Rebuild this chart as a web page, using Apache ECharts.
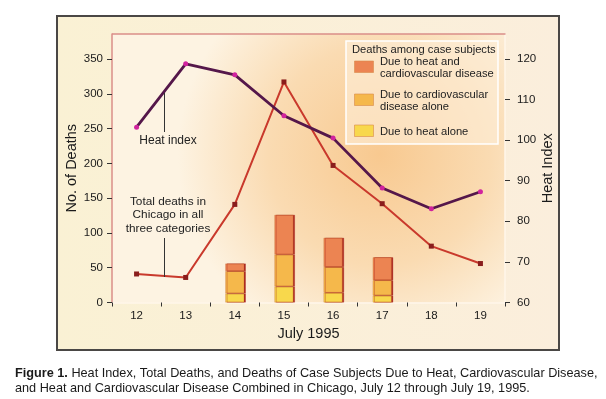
<!DOCTYPE html>
<html style="height: 100%">
<head>
    <meta charset="utf-8">
</head>
<body style="height: 100%; margin: 0; background: #fff">
<div id="container" style="width: 606px; height: 399px"></div>
<script type="text/javascript" src="https://cdn.jsdelivr.net/npm/echarts@6/dist/echarts.min.js"></script>
<script type="text/javascript">
    var days = ['12', '13', '14', '15', '16', '17', '18', '19'];
    var heatIndex = [103.2, 118.8, 116.1, 106.0, 100.5, 88.2, 83.1, 87.3];
    var totalDeaths = [41, 36, 141, 317, 197, 142, 81, 56];
    var heatAlone = [null, null, 13, 23, 14, 10, null, null];
    var cardioAlone = [null, null, 32, 46, 37, 22, null, null];
    var heatAndCardio = [null, null, 11, 57, 42, 33, null, null];
    var deathTicks = [0, 50, 100, 150, 200, 250, 300, 350];
    var heatTicks = [60, 70, 80, 90, 100, 110, 120];

    var FONT = 'Liberation Sans, Arial, sans-serif';
    var colHeatCardio = '#EC8452';
    var colCardio = '#F5B84B';
    var colHeat = '#F8D84C';

    // plot box runs a bit above the top tick on both axes
    var deathMax = 385.9;
    var heatMax = 60 + deathMax / 350 * 60;

    var dom = document.getElementById("container");
    var myChart = echarts.init(dom);

    var legendItems = [
        {color: colHeatCardio, lines: ['Due to heat and', 'cardiovascular disease']},
        {color: colCardio, lines: ['Due to cardiovascular', 'disease alone']},
        {color: colHeat, lines: ['Due to heat alone']}
    ];
    var legendEls = [
        {type: 'rect', shape: {x: 346, y: 41, width: 152, height: 103},
            style: {fill: 'rgba(253,238,216,0.6)', stroke: '#fff', lineWidth: 1.5}},
        {type: 'text', x: 352, y: 49.5, style: {text: 'Deaths among case subjects', font: '11.2px ' + FONT,
            fill: '#222', verticalAlign: 'middle'}}
    ];
    var ly = [61, 94, 125];
    legendItems.forEach(function (it, i) {
        legendEls.push({type: 'rect', shape: {x: 354.5, y: ly[i], width: 19, height: 11.5},
            style: {fill: it.color, stroke: '#D98A4A', lineWidth: 0.6}});
        legendEls.push({type: 'text', x: 380, y: ly[i] + 7, style: {text: it.lines.join('\n'),
            font: '11.2px ' + FONT, fill: '#222', lineHeight: 12.7, verticalAlign: 'middle'}});
    });

    var barStyle = function (c) {
        return {color: c, shadowColor: '#A8231D', shadowOffsetX: 1.5, shadowBlur: 0,
            borderColor: 'rgba(190,95,40,0.55)', borderWidth: 0.6};
    };

    option = {
        animation: false,
        textStyle: {fontFamily: FONT},
        grid: {
            left: 112, right: 101, top: 34, bottom: 96.5,
            show: true, borderWidth: 0,
            backgroundColor: {
                type: 'radial', x: 0.68, y: 0.45, r: 0.75,
                colorStops: [{offset: 0, color: '#F8C990'}, {offset: 0.55, color: '#FADBB2'}, {offset: 1, color: '#FDF3E2'}]
            }
        },
        graphic: [
            {type: 'rect', z: -10, shape: {x: 57, y: 16, width: 502, height: 334},
                style: {
                    fill: {type: 'linear', x: 0, y: 0, x2: 1, y2: 0,
                        colorStops: [{offset: 0, color: '#FAF1D4'}, {offset: 1, color: '#FBEEDC'}]},
                    stroke: '#4A4745', lineWidth: 2
                }},
            {type: 'line', z: 5, shape: {x1: 112, y1: 34, x2: 505.5, y2: 34},
                style: {stroke: '#DA8E88', lineWidth: 1.5}},
            {type: 'group', z: 20, children: legendEls},
            {type: 'line', z: 20, shape: {x1: 164.5, y1: 93, x2: 164.5, y2: 132}, style: {stroke: '#333', lineWidth: 1}},
            {type: 'text', z: 20, x: 168, y: 141, style: {text: 'Heat index', font: '12px ' + FONT, fill: '#222',
                align: 'center', verticalAlign: 'middle'}},
            {type: 'text', z: 20, x: 168, y: 215, style: {text: 'Total deaths in\nChicago in all\nthree categories',
                font: '11.8px ' + FONT, fill: '#222', lineHeight: 13.6, align: 'center', verticalAlign: 'middle'}},
            {type: 'line', z: 20, shape: {x1: 164.5, y1: 238, x2: 164.5, y2: 277}, style: {stroke: '#333', lineWidth: 1}},
            {type: 'text', z: 20, x: 15, y: 366.5, style: {
                text: '{b|Figure 1.} Heat Index, Total Deaths, and Deaths of Case Subjects Due to Heat, Cardiovascular Disease,\nand Heat and Cardiovascular Disease Combined in Chicago, July 12 through July 19, 1995.',
                font: '12.7px ' + FONT, fill: '#1a1a1a', lineHeight: 14.5,
                rich: {b: {fontWeight: 'bold', fontSize: 12.7, fontFamily: FONT}}
            }}
        ],
        xAxis: {
            type: 'category',
            data: days,
            boundaryGap: true,
            axisLine: {lineStyle: {color: '#FFF6EA', width: 1.5}},
            axisTick: {show: true, length: 4, lineStyle: {color: '#333'}},
            axisLabel: {fontSize: 11.5, color: '#1a1a1a', margin: 7},
            name: 'July 1995',
            nameLocation: 'middle',
            nameGap: 24,
            nameMoveOverlap: false,
            nameTextStyle: {fontSize: 14.5, color: '#1a1a1a'}
        },
        yAxis: [
            {
                type: 'value', min: 0, max: deathMax,
                splitLine: {show: false},
                axisLine: {show: true, lineStyle: {color: '#DA8E88', width: 1.5}},
                axisTick: {show: true, length: 5, customValues: deathTicks, lineStyle: {color: '#333'}},
                axisLabel: {customValues: deathTicks, fontSize: 11.5, color: '#1a1a1a', margin: 9},
                name: 'No. of Deaths',
                nameLocation: 'middle',
                nameGap: 33,
                nameMoveOverlap: false,
                nameTextStyle: {fontSize: 14.5, color: '#1a1a1a'}
            },
            {
                type: 'value', min: 60, max: heatMax, position: 'right',
                splitLine: {show: false},
                axisLine: {show: true, lineStyle: {color: '#FFF6EA', width: 1.5}},
                axisTick: {show: true, length: 5, customValues: heatTicks, lineStyle: {color: '#333'}},
                axisLabel: {customValues: heatTicks, fontSize: 11.5, color: '#1a1a1a', margin: 12},
                name: 'Heat Index',
                nameLocation: 'middle',
                nameGap: 35,
                nameRotate: 90,
                nameMoveOverlap: false,
                nameTextStyle: {fontSize: 14.5, color: '#1a1a1a'}
            }
        ],
        series: [
            {name: 'Due to heat alone', type: 'bar', stack: 'cases', barWidth: 19, data: heatAlone,
                itemStyle: barStyle(colHeat)},
            {name: 'Due to cardiovascular disease alone', type: 'bar', stack: 'cases', barWidth: 19, data: cardioAlone,
                itemStyle: barStyle(colCardio)},
            {name: 'Due to heat and cardiovascular disease', type: 'bar', stack: 'cases', barWidth: 19, data: heatAndCardio,
                itemStyle: barStyle(colHeatCardio)},
            {name: 'Total deaths', type: 'line', yAxisIndex: 0, data: totalDeaths, z: 3,
                symbol: 'rect', symbolSize: 5, showSymbol: true,
                lineStyle: {color: '#C9392C', width: 2},
                itemStyle: {color: '#8A1D1C'}},
            {name: 'Heat index', type: 'line', yAxisIndex: 1, data: heatIndex, z: 4,
                symbol: 'circle', symbolSize: 5, showSymbol: true,
                lineStyle: {color: '#55174A', width: 2.8},
                itemStyle: {color: '#D1239E'}}
        ]
    };

    if (option && typeof option === "object") {
        myChart.setOption(option, true);
    }
</script>
</body>
</html>
